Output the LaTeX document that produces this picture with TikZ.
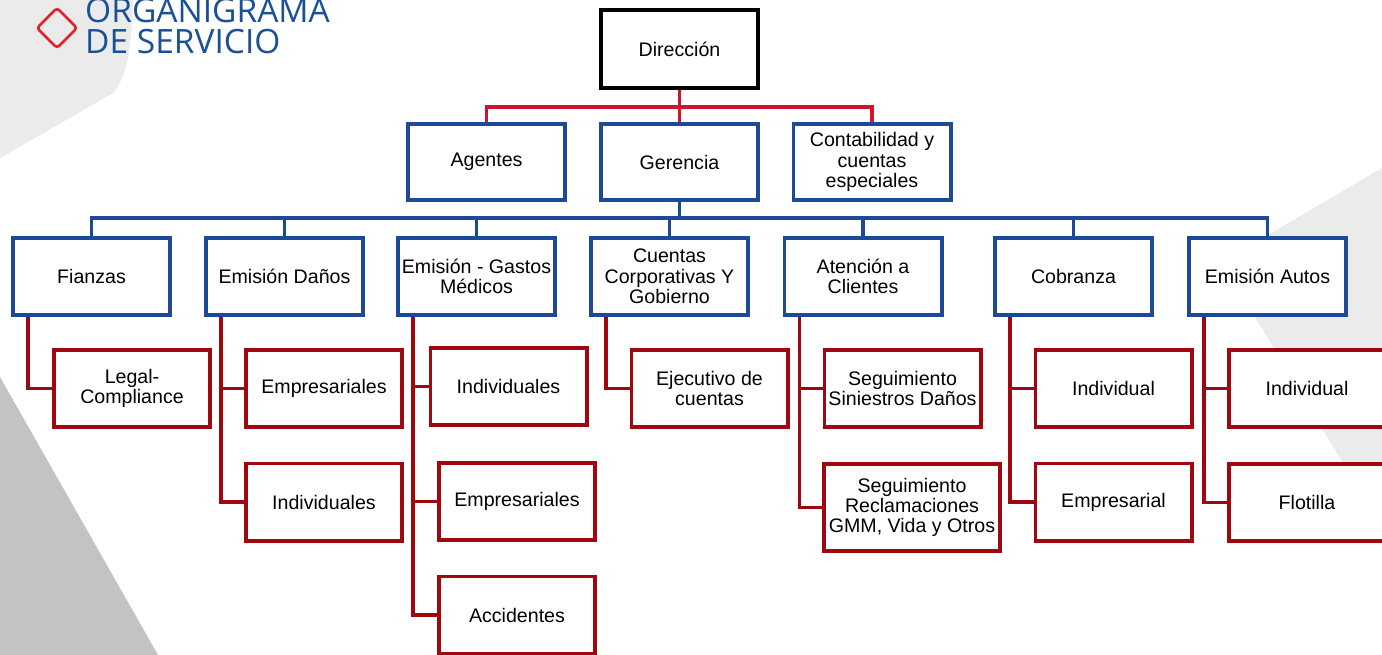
\documentclass[tikz,border=0pt]{standalone}
\usepackage{fontspec}
\usepackage{tikz}
\setmainfont{Liberation Sans}
\newfontfamily\titlefont{Open Sans}
\definecolor{orgblue}{RGB}{28, 74, 150}
\definecolor{orgred}{RGB}{208, 20, 45}
\definecolor{orgdarkred}{RGB}{158, 8, 14}
\definecolor{titleblue}{RGB}{27, 80, 150}
\definecolor{titlered}{RGB}{228, 32, 40}
\definecolor{bglight}{RGB}{235, 235, 235}
\definecolor{bgdark}{RGB}{195, 195, 195}

\begin{document}
\begin{tikzpicture}[x=1pt,y=-1pt,
  box/.style={draw=orgblue, line width=3.6pt, fill=white, inner sep=0pt, align=center,
    minimum width=157.4pt, minimum height=77.4pt, font=\fontsize{19.6}{20.3}\selectfont},
  head/.style={box, minimum height=76.4pt},
  sub/.style={box, draw=orgdarkred, minimum width=156.4pt},
  title/.style={text=titleblue, inner sep=0pt, anchor=base west,
    font=\titlefont\fontsize{33.5}{33.5}\selectfont},
  topline/.style={draw=orgred, line width=3.6pt},
  busline/.style={draw=orgblue, line width=3.6pt},
  subline/.style={draw=orgdarkred, line width=3.6pt}]
% Background
\useasboundingbox (0,0) rectangle (1382,655);
\fill[white] (0,0) rectangle (1382,655);
\fill[bglight] (0,0) -- (133,0) .. controls (131,50) and (128,75) .. (113,93) -- (0,158) -- cycle;
\fill[bglight] (1382,168) -- (1222,262) -- (1382,528) -- cycle;
\fill[bgdark] (0,377) -- (158,655) -- (0,655) -- cycle;

% Title
\draw[titlered, line width=2.6pt, rounded corners=3pt] (57,8) -- (77,28) -- (57,48) -- (37,28) -- cycle;
\node[title] (title1) at (85,23) {ORGANIGRAMA};
\node[title] (title2) at (85,54) {DE SERVICIO};

% Top levels
\node[head, minimum height=78.4pt, draw=black] (dir) at (679.5,49) {Dirección};
\node[head] (agentes) at (486.5,162) {Agentes};
\node[head] (gerencia) at (679.5,162) {Gerencia};
\node[head] (contab) at (872,162) {Contabilidad y\\cuentas\\especiales};

% Areas
\node[box] (fianzas) at (91.5,276.5) {Fianzas};
\node[box] (danos) at (284.5,276.5) {Emisión Daños};
\node[box] (gastos) at (476.5,276.5) {Emisión - Gastos\\Médicos};
\node[box] (cuentas) at (669.5,276.5) {Cuentas\\Corporativas Y\\Gobierno};
\node[box] (atencion) at (863,276.5) {Atención a\\Clientes};
\node[box] (cobranza) at (1073.5,276.5) {Cobranza};
\node[box] (autos) at (1267.5,276.5) {Emisión Autos};

% Sub areas
\node[sub] (legal) at (132,388.5) {Legal-\\Compliance};
\node[sub] (danosEmp) at (324,388.5) {Empresariales};
\node[sub] (danosInd) at (324,502) {Individuales};
\node[sub] (gastosInd) at (508.5,386.5) {Individuales};
\node[sub] (gastosEmp) at (517,501.5) {Empresariales};
\node[sub] (gastosAcc) at (517,615) {Accidentes};
\node[sub] (ejecutivo) at (709.5,388.5) {Ejecutivo de\\cuentas};
\node[sub] (siniestros) at (902.5,388.5) {Seguimiento\\Siniestros Daños};
\node[sub, minimum width=176.4pt, minimum height=87.4pt] (reclam) at (912,507.5) {Seguimiento\\Reclamaciones\\GMM, Vida y Otros};
\node[sub] (cobInd) at (1113.5,388.5) {Individual};
\node[sub] (cobEmp) at (1113.5,502) {Empresarial};
\node[sub] (autInd) at (1307,388.5) {Individual};
\node[sub] (flotilla) at (1307,502.5) {Flotilla};

% Connectors
\coordinate (split) at (679.5,107);
\coordinate (bus) at (679.5,218);
\draw[topline] (dir) -- (gerencia);
\foreach \n in {agentes,contab}
  \draw[topline] (\n.north) |- (split);
\draw[busline] (gerencia) -- (bus);
\foreach \n in {fianzas,danos,gastos,cuentas,atencion,cobranza,autos}
  \draw[busline] (\n.north) |- (bus);
\foreach \p/\c in {fianzas/legal, danos/danosEmp, danos/danosInd,
    gastos/gastosInd, gastos/gastosEmp, gastos/gastosAcc, cuentas/ejecutivo,
    atencion/siniestros, atencion/reclam, cobranza/cobInd, cobranza/cobEmp,
    autos/autInd, autos/flotilla}
  \draw[subline] ([xshift=17pt]\p.south west) |- (\c.west);
\end{tikzpicture}
\end{document}
